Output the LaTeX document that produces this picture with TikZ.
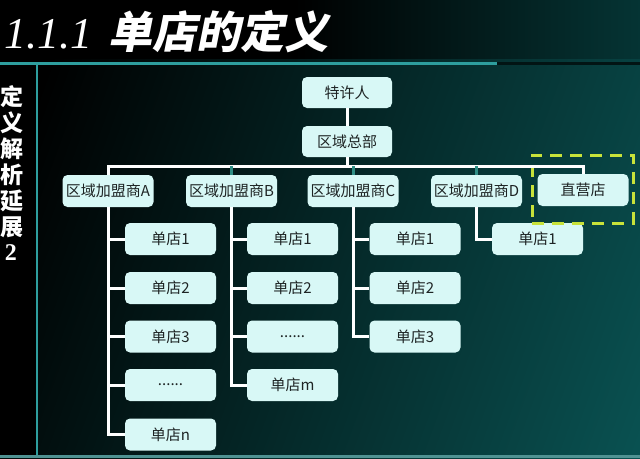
\documentclass[tikz,border=0pt]{standalone}
\usepackage{fontspec}
\newfontfamily\cjk{Noto Sans CJK SC}
\newfontfamily\titlecjk[FakeSlant=0.2]{Noto Sans CJK SC}
\newfontfamily\titlenum{Liberation Serif}
\definecolor{boxcyan}{HTML}{D8F8F6}
\definecolor{boxtext}{HTML}{1E2424}
\definecolor{barteal}{HTML}{2E9E9E}
\definecolor{bgteal}{HTML}{0A6464}
\definecolor{bodyteal}{HTML}{0C6A6A}
\definecolor{stubteal}{HTML}{2F8F86}
\definecolor{marklime}{HTML}{C8E23A}
\pgfdeclarehorizontalshading{titlebar}{100bp}{color(0bp)=(black); color(48bp)=(black); color(100bp)=(bgteal)}
\pgfdeclarehorizontalshading{bodybar}{100bp}{color(0bp)=(black); color(22bp)=(black); color(100bp)=(bodyteal)}

\begin{document}
\begin{tikzpicture}[x=1pt, y=-1pt,
    org/.style = {
      fill = boxcyan,
      rounded corners = 5pt,
      minimum width = 91pt,
      minimum height = 32pt,
      inner sep = 0pt,
      text = boxtext,
      font = \cjk\fontsize{15}{18}\selectfont
    },
    link/.style = {draw = white, line width = 3pt},
    stub/.style = {draw = stubteal, line width = 3pt},
    sidechar/.style = {
      text = white,
      inner sep = 0pt,
      font = \cjk\bfseries\fontsize{23}{23}\selectfont
    },
    focusbox/.style = {
      draw = marklime,
      line width = 3pt,
      dash pattern = on 12pt off 8pt,
      minimum width = 101pt,
      minimum height = 68pt
    }
  ]
  \useasboundingbox (0,0) rectangle (640,458);

  % background
  \shade[shading=bodybar, shading angle=-20] (0,58) rectangle (640,458);
  \shade[shading=titlebar] (0,0) rectangle (640,58);
  \fill[black] (0,58) rectangle (37,458);
  \draw[barteal, line width=3pt] (0,63) -- (497,63);
  \draw[black!80!bgteal, line width=3pt] (497,63) -- (640,63);
  \draw[barteal, line width=2pt] (37,63) -- (37,458);
  \fill[barteal!60!gray] (0,455) rectangle (640,458);

  \node[anchor=base west, text=white, inner sep=0pt] (title) at (4,48)
    {\titlenum\itshape\fontsize{44}{44}\selectfont 1.1.1\hspace{16pt}\titlecjk\bfseries 单店的定义};

  \node[sidechar] (side0) at (12.5,97)  {定};
  \node[sidechar] (side1) at (12.5,123) {义};
  \node[sidechar] (side2) at (12.5,149) {解};
  \node[sidechar] (side3) at (12.5,175) {析};
  \node[sidechar] (side4) at (12.5,201) {延};
  \node[sidechar] (side5) at (12.5,227) {展};
  \node[sidechar, font=\titlenum\bfseries\fontsize{24}{24}\selectfont] (side6) at (11,253) {2};

  % chart
  \node[org, minimum width=90pt, minimum height=31pt] (owner) at (347,92.5)  {特许人};
  \node[org, minimum width=90pt, minimum height=31pt] (hq)    at (347,141.5) {区域总部};

  \node[org] (fa)     at (108,191)   {区域加盟商A};
  \node[org] (fb)     at (231.5,191) {区域加盟商B};
  \node[org] (fc)     at (353,191)   {区域加盟商C};
  \node[org] (fd)     at (476.5,191) {区域加盟商D};
  \node[org] (direct) at (583,190)   {直营店};

  \node[org] (a1) at (170.5,239)   {单店1};
  \node[org] (a2) at (170.5,288)   {单店2};
  \node[org] (a3) at (170.5,336.5) {单店3};
  \node[org] (a4) at (170.5,385)   {......};
  \node[org] (a5) at (170.5,434.5) {单店n};

  \node[org] (b1) at (292.5,239)   {单店1};
  \node[org] (b2) at (292.5,288)   {单店2};
  \node[org] (b3) at (292.5,336.5) {......};
  \node[org] (b4) at (292.5,385)   {单店m};

  \node[org] (c1) at (415,239)   {单店1};
  \node[org] (c2) at (415,288)   {单店2};
  \node[org] (c3) at (415,336.5) {单店3};

  \node[org] (d1) at (537.5,239) {单店1};

  \node[focusbox] (focus) at (582.5,189) {};

  \coordinate (bus) at (347,166);
  \draw[link] (owner) -- (hq);
  \draw[link] (hq) -- (bus);
  \draw[link] (fa.north) |- (bus) -| (direct.north);
  \draw[stub] (fb.north) -- (fb.north |- bus);
  \draw[stub] (fc.north) -- (fc.north |- bus);
  \draw[stub] (fd.north) -- (fd.north |- bus);

  \foreach \s in {a1,a2,a3,a4,a5}
    \draw[link] (fa.south) |- (\s.west);
  \foreach \s in {b1,b2,b3,b4}
    \draw[link] (fb.south) |- (\s.west);
  \foreach \s in {c1,c2,c3}
    \draw[link] (fc.south) |- (\s.west);
  \draw[link] (fd.south) |- (d1.west);
\end{tikzpicture}
\end{document}
